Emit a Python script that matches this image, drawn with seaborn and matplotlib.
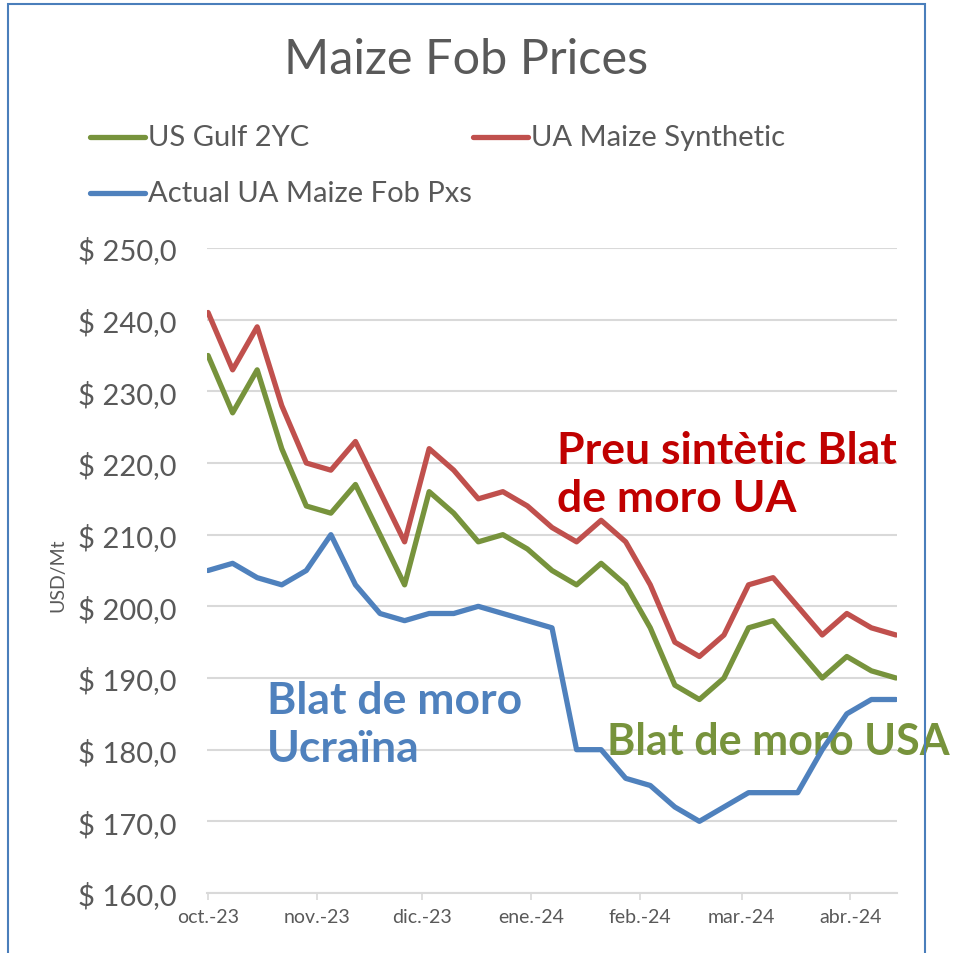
import pandas as pd
import numpy as np
import matplotlib
matplotlib.use("Agg")
import matplotlib.pyplot as plt
from matplotlib.lines import Line2D
from matplotlib.patches import Rectangle
import seaborn as sns

# 数据：每周价格 (USD/Mt)
dates = pd.date_range("2023-10-01", periods=29, freq="7D")
us_gulf = [235, 227, 233, 222, 214, 213, 217, 210, 203, 216, 213, 209, 210, 208, 205,
           203, 206, 203, 197, 189, 187, 190, 197, 198, 194, 190, 193, 191, 190]
ua_synthetic = [241, 233, 239, 228, 220, 219, 223, 216, 209, 222, 219, 215, 216, 214, 211,
                209, 212, 209, 203, 195, 193, 196, 203, 204, 200, 196, 199, 197, 196]
ua_actual = [205, 206, 204, 203, 205, 210, 203, 199, 198, 199, 199, 200, 199, 198, 197,
             180, 180, 176, 175, 172, 170, 172, 174, 174, 174, 180, 185, 187, 187]

series_names = ["US Gulf 2YC", "UA Maize Synthetic", "Actual UA Maize Fob Pxs"]
series_colors = ["#77933C", "#C0504D", "#4F81BD"]

month_ticks = pd.to_datetime(["2023-10-01", "2023-11-01", "2023-12-01", "2024-01-01",
                              "2024-02-01", "2024-03-01", "2024-04-01"])
month_labels = ["oct.-23", "nov.-23", "dic.-23", "ene.-24", "feb.-24", "mar.-24", "abr.-24"]
y_ticks = [160, 170, 180, 190, 200, 210, 220, 230, 240, 250]
y_labels = ["$ 160,0", "$ 170,0", "$ 180,0", "$ 190,0", "$ 200,0",
            "$ 210,0", "$ 220,0", "$ 230,0", "$ 240,0", "$ 250,0"]

df = pd.DataFrame({
    "date": list(dates) * 3,
    "price": us_gulf + ua_synthetic + ua_actual,
    "series": np.repeat(series_names, len(dates)),
})

sns.set_theme(style="white")
plt.rcParams["font.family"] = ["Lato", "DejaVu Sans"]
grey = "#595959"

fig = plt.figure(figsize=(9.58, 9.54), dpi=100)
ax = fig.add_axes([207 / 958, 1 - 894 / 954, 690 / 958, 645 / 954])

sns.lineplot(data=df, x="date", y="price", hue="series", hue_order=series_names,
             palette=series_colors, linewidth=3.8, legend=False, ax=ax, zorder=3)

ax.set_ylim(160, 250)
ax.set_xlim(dates[0] - pd.Timedelta(days=0.3), dates[-1] + pd.Timedelta(days=0.3))
ax.set_yticks(y_ticks)
ax.set_yticklabels(y_labels)
ax.set_xticks(month_ticks)
ax.set_xticklabels(month_labels)
ax.yaxis.grid(True, color="#D9D9D9", linewidth=1.5)
ax.set_axisbelow(True)
for s in ["left", "top", "right"]:
    ax.spines[s].set_visible(False)
ax.spines["bottom"].set_color("#D9D9D9")
ax.spines["bottom"].set_linewidth(1.5)
ax.tick_params(axis="y", length=0, pad=22, labelsize=21, labelcolor=grey)
ax.tick_params(axis="x", length=5, width=1.2, color="#D9D9D9", direction="out",
               bottom=True, pad=6, labelsize=14, labelcolor=grey)
ax.set_xlabel("")
ax.set_ylabel("")
fig.text(58 / 958, 1 - 575 / 954, "USD/Mt", rotation=90, ha="center", va="center",
         fontsize=14, color=grey)

# 标题
fig.text(466 / 958, 1 - 60 / 954, "Maize Fob Prices", ha="center", va="center",
         fontsize=35, color=grey)

# 图例（手动放置）
legend_pos = [(90, 138), (473, 138), (90, 194)]
for (lx, ly), name, col in zip(legend_pos, series_names, series_colors):
    fig.add_artist(Line2D([lx / 958, (lx + 55) / 958], [1 - ly / 954, 1 - ly / 954],
                          color=col, linewidth=3.8, solid_capstyle="round"))
    fig.text((lx + 58) / 958, 1 - ly / 954, name, ha="left", va="center",
             fontsize=21, color=grey)

# 注释文字
ax.text(557 / 958, 1 - 475 / 954, "Preu sintètic Blat\nde moro UA", transform=fig.transFigure,
        ha="left", va="center", fontsize=32, fontweight="bold", color="#C00000",
        linespacing=1.25, zorder=1)
ax.text(267 / 958, 1 - 725 / 954, "Blat de moro\nUcraïna", transform=fig.transFigure,
        ha="left", va="center", fontsize=32, fontweight="bold", color="#4F81BD",
        linespacing=1.25, zorder=1)
ax.text(607 / 958, 1 - 742 / 954, "Blat de moro USA", transform=fig.transFigure,
        ha="left", va="center", fontsize=31, fontweight="bold", color="#77933C",
        zorder=1)

# 外框
fig.add_artist(Rectangle((8 / 958, -0.05), 917 / 958, 1.05 - 5 / 954,
                         transform=fig.transFigure, fill=False,
                         edgecolor="#4A7EBB", linewidth=1.5))

fig.savefig("out.png", dpi=100)
plt.close(fig)
